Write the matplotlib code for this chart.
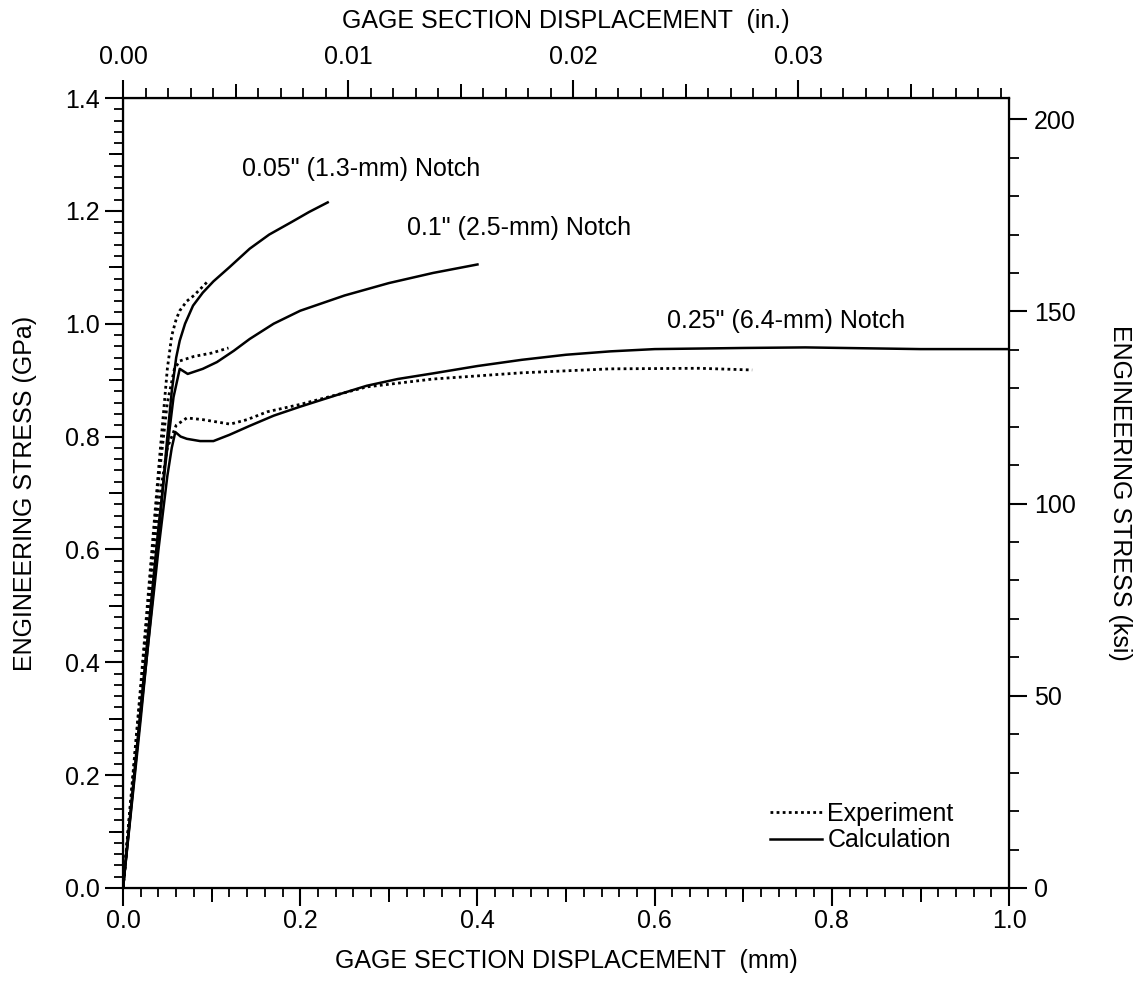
import matplotlib
matplotlib.use("Agg")
import matplotlib.pyplot as plt
from matplotlib.ticker import MultipleLocator, FixedLocator, NullFormatter

plt.rcParams['font.family'] = ['Liberation Sans', 'DejaVu Sans']

# ---- data (mm, GPa) ----
# 0.05" (1.3-mm) notch
calc_005_x = [0, 0.02, 0.04, 0.05, 0.055, 0.06, 0.064, 0.07, 0.079, 0.09, 0.102, 0.12,
              0.143, 0.165, 0.19, 0.21, 0.231]
calc_005_y = [0, 0.30, 0.62, 0.80, 0.88, 0.94, 0.97, 1.0, 1.032, 1.055, 1.075, 1.10,
              1.133, 1.158, 1.18, 1.198, 1.215]
exp_005_x = [0, 0.02, 0.04, 0.05, 0.055, 0.06, 0.064, 0.072, 0.08, 0.095]
exp_005_y = [0, 0.36, 0.74, 0.92, 0.979, 1.008, 1.023, 1.04, 1.05, 1.074]

# 0.1" (2.5-mm) notch
calc_01_x = [0, 0.02, 0.04, 0.05, 0.057, 0.064, 0.073, 0.09, 0.106, 0.125, 0.143, 0.17,
             0.2, 0.25, 0.3, 0.35, 0.40]
calc_01_y = [0, 0.32, 0.64, 0.78, 0.87, 0.92, 0.911, 0.92, 0.932, 0.952, 0.973, 1.0,
             1.023, 1.05, 1.072, 1.09, 1.105]
exp_01_x = [0, 0.02, 0.04, 0.05, 0.058, 0.064, 0.08, 0.1, 0.119]
exp_01_y = [0, 0.35, 0.72, 0.86, 0.92, 0.934, 0.942, 0.948, 0.957]

# 0.25" (6.4-mm) notch
calc_025_x = [0, 0.02, 0.04, 0.05, 0.055, 0.059, 0.065, 0.072, 0.087, 0.102, 0.12, 0.143,
              0.17, 0.2, 0.24, 0.275, 0.31, 0.35, 0.4, 0.45, 0.5, 0.55, 0.6, 0.7, 0.77,
              0.9, 1.0]
calc_025_y = [0, 0.31, 0.60, 0.73, 0.78, 0.808, 0.80, 0.796, 0.792, 0.792, 0.803, 0.819,
              0.837, 0.853, 0.873, 0.89, 0.902, 0.912, 0.925, 0.936, 0.945, 0.951, 0.955,
              0.957, 0.958, 0.955, 0.955]
exp_025_x = [0, 0.02, 0.04, 0.05, 0.06, 0.072, 0.09, 0.121, 0.14, 0.163, 0.2, 0.275, 0.35,
             0.45, 0.55, 0.65, 0.71]
exp_025_y = [0, 0.34, 0.68, 0.78, 0.82, 0.833, 0.83, 0.822, 0.83, 0.844, 0.857, 0.888, 0.902,
             0.913, 0.92, 0.921, 0.918]

notch_labels = ['0.05" (1.3-mm) Notch', '0.1" (2.5-mm) Notch', '0.25" (6.4-mm) Notch']
label_x = [0.134, 0.32, 0.614]
label_y = [1.275, 1.17, 1.005]

MM_PER_IN = 25.4
KSI_PER_GPA = 146.8
FS = 18

fig = plt.figure(figsize=(11.36, 9.84), dpi=100)
ax = fig.add_axes([0.1083, 0.0976, 0.78, 0.8028])

dot = (0, (1, 1.2))
for x, y in [(exp_005_x, exp_005_y), (exp_01_x, exp_01_y), (exp_025_x, exp_025_y)]:
    ax.plot(x, y, color='black', lw=2.0, linestyle=dot)
for x, y in [(calc_005_x, calc_005_y), (calc_01_x, calc_01_y), (calc_025_x, calc_025_y)]:
    ax.plot(x, y, color='black', lw=1.8)

for t, lx, ly in zip(notch_labels, label_x, label_y):
    ax.text(lx, ly, t, fontsize=FS, va='center', ha='left')

# legend
h1, = ax.plot([], [], color='black', lw=2.0, linestyle=dot)
h2, = ax.plot([], [], color='black', lw=1.8)
ax.legend([h1, h2], ['Experiment', 'Calculation'], frameon=False, fontsize=FS,
          loc='lower left', bbox_to_anchor=(0.73, 0.045), borderpad=0, borderaxespad=0,
          handlelength=2.1, handletextpad=0.2, labelspacing=0.1)

ax.set_xlim(0, 1.0)
ax.set_ylim(0, 1.4)

for s in ax.spines.values():
    s.set_linewidth(1.6)

# bottom / left axes
ax.xaxis.set_major_locator(MultipleLocator(0.2))
ax.xaxis.set_minor_locator(MultipleLocator(0.02))
ax.xaxis.set_major_formatter(lambda v, p: f'{v:.1f}')
ax.yaxis.set_major_locator(MultipleLocator(0.2))
ax.yaxis.set_minor_locator(MultipleLocator(0.02))
ax.yaxis.set_major_formatter(lambda v, p: f'{v:.1f}')
ax.tick_params(which='major', direction='out', length=13, width=1.5, labelsize=FS, pad=2)
ax.tick_params(axis='y', which='major', pad=4)
ax.tick_params(which='minor', direction='out', length=6.5, width=1.3)

# medium ticks at 0.1 steps
midx = ax.secondary_xaxis('bottom')
midx.xaxis.set_major_locator(FixedLocator([0.1, 0.3, 0.5, 0.7, 0.9]))
midx.xaxis.set_major_formatter(NullFormatter())
midx.tick_params(direction='out', length=10, width=1.4)
midy = ax.secondary_yaxis('left')
midy.yaxis.set_major_locator(FixedLocator([0.1, 0.3, 0.5, 0.7, 0.9, 1.1, 1.3]))
midy.yaxis.set_major_formatter(NullFormatter())
midy.tick_params(direction='out', length=10, width=1.4)

ax.set_xlabel('GAGE SECTION DISPLACEMENT  (mm)', fontsize=FS, labelpad=12)
ax.set_ylabel('ENGINEERING STRESS (GPa)', fontsize=FS, labelpad=20)

# top axis in inches
top = ax.secondary_xaxis('top', functions=(lambda v: v / MM_PER_IN, lambda v: v * MM_PER_IN))
top.xaxis.set_major_locator(MultipleLocator(0.01))
top.xaxis.set_minor_locator(MultipleLocator(0.001))
top.xaxis.set_major_formatter(lambda v, p: f'{v:.2f}')
top.tick_params(which='major', direction='out', length=13, width=1.5, labelsize=FS, pad=8)
top.tick_params(which='minor', direction='out', length=7, width=1.3)
top.set_xlabel('GAGE SECTION DISPLACEMENT  (in.)', fontsize=FS, labelpad=12)
topmid = ax.secondary_xaxis('top', functions=(lambda v: v / MM_PER_IN, lambda v: v * MM_PER_IN))
topmid.xaxis.set_major_locator(FixedLocator([0.005, 0.015, 0.025, 0.035]))
topmid.xaxis.set_major_formatter(NullFormatter())
topmid.tick_params(direction='out', length=10, width=1.4)

# right axis in ksi
right = ax.secondary_yaxis('right', functions=(lambda v: v * KSI_PER_GPA, lambda v: v / KSI_PER_GPA))
right.yaxis.set_major_locator(MultipleLocator(50))
right.yaxis.set_minor_locator(MultipleLocator(10))
right.tick_params(which='major', direction='out', length=13, width=1.5, labelsize=FS, pad=5)
right.tick_params(which='minor', direction='out', length=7, width=1.3)
right.set_ylabel('ENGINEERING STRESS (ksi)', fontsize=FS, rotation=270, labelpad=40)

fig.savefig('out.png', dpi=100)
